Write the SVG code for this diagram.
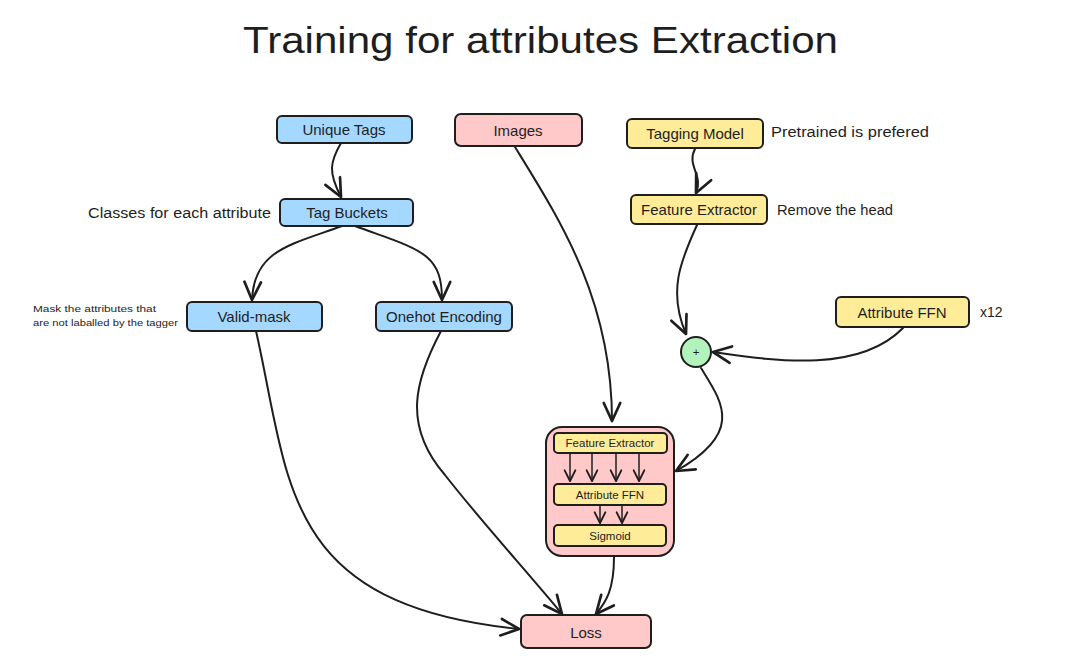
<svg xmlns="http://www.w3.org/2000/svg" width="1073" height="662" viewBox="0 0 1073 662">
<defs>
<style>
text{font-family:"Liberation Sans","DejaVu Sans",sans-serif;fill:#1e1e1e;}
.t{font-size:15px;text-anchor:middle;dominant-baseline:central;}
.s{font-size:11.5px;text-anchor:middle;dominant-baseline:central;}
.n{font-size:14px;dominant-baseline:central;}
.box{stroke:#1e1e1e;stroke-width:2;}
.blue{fill:#a5d8ff;}
.pink{fill:#ffc9c9;}
.yel{fill:#ffec99;}
.green{fill:#b2f2bb;}
.c{fill:none;stroke:#1e1e1e;stroke-width:2;stroke-linecap:round;}
.ci{fill:none;stroke:#1e1e1e;stroke-width:1.5;stroke-linecap:round;}
</style>
<marker id="a" markerUnits="userSpaceOnUse" markerWidth="24" markerHeight="24" viewBox="-14 -8 16 16" refX="0" refY="0" orient="auto">
<path d="M-12 -5.5 L0 0 L-12 5.5" fill="none" stroke="#1e1e1e" stroke-width="1.8" stroke-linecap="round" stroke-linejoin="round"/>
</marker>
<marker id="b" markerUnits="userSpaceOnUse" markerWidth="16" markerHeight="16" viewBox="-10 -6 12 12" refX="0" refY="0" orient="auto">
<path d="M-8 -4 L0 0 L-8 4" fill="none" stroke="#1e1e1e" stroke-width="1.4" stroke-linecap="round" stroke-linejoin="round"/>
</marker>
</defs>
<rect width="1073" height="662" fill="#ffffff"/>
<text x="243" y="40" font-size="36" dominant-baseline="central" textLength="595" lengthAdjust="spacingAndGlyphs">Training for attributes Extraction</text>

<g id="connectors">
<path class="c" d="M341 143 C330 162,328 172,341 197" marker-end="url(#a)"/>
<path class="c" d="M695 149 C686 165,704 176,696 193" marker-end="url(#a)"/>
<path class="c" d="M342 226 C290 245,254 250,252 300" marker-end="url(#a)"/>
<path class="c" d="M355 226 C420 250,442 252,442 300" marker-end="url(#a)"/>
<path class="c" d="M515 147 C560 220,612 300,612 421" marker-end="url(#a)"/>
<path class="c" d="M697 225 C680 262,668 292,686 334" marker-end="url(#a)"/>
<path class="c" d="M903 328 C860 372,780 362,713 352" marker-end="url(#a)"/>
<path class="c" d="M701 368 C722 402,745 432,676 471" marker-end="url(#a)"/>
<path class="c" d="M256 331 C290 480,280 605,519 629" marker-end="url(#a)"/>
<path class="c" d="M441 331 C415 380,402 425,445 475 C480 520,530 575,562 614" marker-end="url(#a)"/>
<path class="c" d="M614 557 C614 590,606 602,596 614" marker-end="url(#a)"/>
</g>

<g id="notes">
<text class="n" x="88" y="213" textLength="183" lengthAdjust="spacingAndGlyphs">Classes for each attribute</text>
<text class="n" x="771" y="132" textLength="158" lengthAdjust="spacingAndGlyphs">Pretrained is prefered</text>
<text class="n" x="777" y="210" textLength="116" lengthAdjust="spacingAndGlyphs">Remove the head</text>
<text class="n" x="980" y="312" font-size="13">x12</text>
<text x="33" y="308" font-size="9.5" dominant-baseline="central" textLength="123" lengthAdjust="spacingAndGlyphs">Mask the attributes that</text>
<text x="33" y="322" font-size="9.5" dominant-baseline="central" textLength="145" lengthAdjust="spacingAndGlyphs">are not laballed by the tagger</text>
</g>

<g id="unique-tags"><rect class="box blue" x="277" y="116" width="135" height="27" rx="5"/><text class="t" x="344" y="129.5">Unique Tags</text></g>
<g id="images"><rect class="box pink" x="455" y="114" width="127" height="32" rx="6"/><text class="t" x="518" y="130">Images</text></g>
<g id="tagging-model"><rect class="box yel" x="627" y="119" width="136" height="29" rx="5"/><text class="t" x="695" y="133.5">Tagging Model</text></g>
<g id="tag-buckets"><rect class="box blue" x="280" y="199" width="133" height="27" rx="5"/><text class="t" x="347" y="212.5">Tag Buckets</text></g>
<g id="feature-extractor"><rect class="box yel" x="631" y="195" width="136" height="29" rx="5"/><text class="t" x="699" y="209.5">Feature Extractor</text></g>
<g id="valid-mask"><rect class="box blue" x="187" y="302" width="135" height="29" rx="5"/><text class="t" x="254" y="316.5">Valid-mask</text></g>
<g id="onehot"><rect class="box blue" x="376" y="302" width="136" height="29" rx="5"/><text class="t" x="444" y="316.5">Onehot Encoding</text></g>
<g id="attribute-ffn"><rect class="box yel" x="836" y="297" width="133" height="30" rx="5"/><text class="t" x="902" y="312">Attribute FFN</text></g>
<g id="plus"><circle class="box green" cx="696" cy="352" r="15"/><text class="s" x="696" y="352" font-size="10">+</text></g>

<g id="model">
<rect class="box pink" x="546" y="427" width="128" height="129" rx="16"/>
<g class="ci">
<path d="M570 454 L570 481" marker-end="url(#b)"/>
<path d="M592 454 L592 481" marker-end="url(#b)"/>
<path d="M616 454 L616 481" marker-end="url(#b)"/>
<path d="M639 454 L639 481" marker-end="url(#b)"/>
<path d="M600 506 L600 523" marker-end="url(#b)"/>
<path d="M622 506 L622 523" marker-end="url(#b)"/>
</g>
<g id="inner-fe"><rect class="box yel" x="554" y="433" width="113" height="20" rx="4" stroke-width="1.5"/><text class="s" x="610" y="443">Feature Extractor</text></g>
<g id="inner-ffn"><rect class="box yel" x="554" y="484" width="112" height="21" rx="4" stroke-width="1.5"/><text class="s" x="610" y="494.5">Attribute FFN</text></g>
<g id="sigmoid"><rect class="box yel" x="554" y="525" width="112" height="21" rx="4" stroke-width="1.5"/><text class="s" x="610" y="535.5">Sigmoid</text></g>
</g>

<g id="loss"><rect class="box pink" x="521" y="615" width="130" height="33" rx="6"/><text class="t" x="586" y="632">Loss</text></g>
</svg>
